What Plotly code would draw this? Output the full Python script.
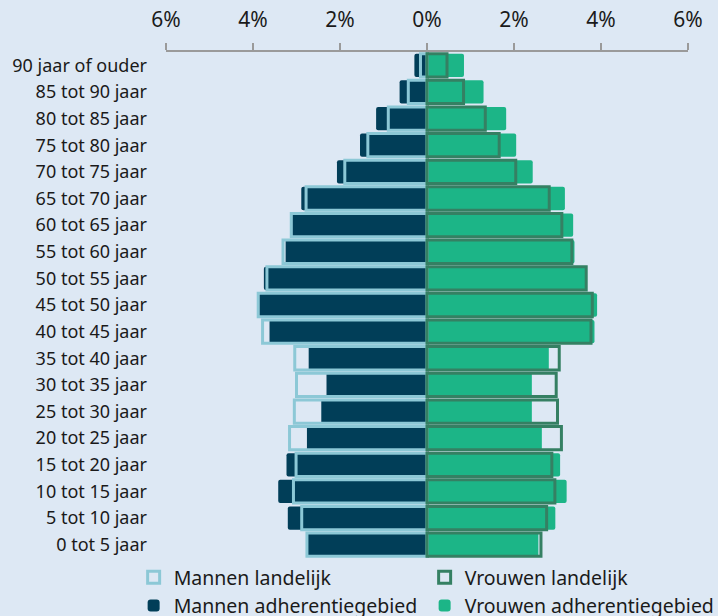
import plotly.graph_objects as go

# age groups, youngest first (plotly draws categories bottom-up)
age_groups = ["0 tot 5 jaar", "5 tot 10 jaar", "10 tot 15 jaar", "15 tot 20 jaar",
              "20 tot 25 jaar", "25 tot 30 jaar", "30 tot 35 jaar", "35 tot 40 jaar",
              "40 tot 45 jaar", "45 tot 50 jaar", "50 tot 55 jaar", "55 tot 60 jaar",
              "60 tot 65 jaar", "65 tot 70 jaar", "70 tot 75 jaar", "75 tot 80 jaar",
              "80 tot 85 jaar", "85 tot 90 jaar", "90 jaar of ouder"]

# percentages of total population
men_adherentie = [2.74, 3.20, 3.42, 3.23, 2.76, 2.43, 2.31, 2.72, 3.62, 3.86,
                  3.75, 3.25, 3.10, 2.89, 2.07, 1.54, 1.17, 0.63, 0.29]
men_landelijk = [2.76, 2.88, 3.07, 3.01, 3.16, 3.05, 3.00, 3.04, 3.78, 3.88,
                 3.68, 3.31, 3.12, 2.78, 1.89, 1.36, 0.89, 0.43, 0.15]
women_adherentie = [2.56, 2.95, 3.21, 3.06, 2.64, 2.41, 2.41, 2.80, 3.85, 3.91,
                    3.67, 3.39, 3.36, 3.17, 2.43, 2.05, 1.82, 1.30, 0.85]
women_landelijk = [2.62, 2.75, 2.94, 2.87, 3.09, 3.00, 2.97, 3.04, 3.77, 3.80,
                   3.66, 3.33, 3.10, 2.81, 2.04, 1.66, 1.34, 0.84, 0.46]

tick_vals = [-6, -4, -2, 0, 2, 4, 6]
tick_text = ["6%", "4%", "2%", "0%", "2%", "4%", "6%"]

bg = "#dde8f4"
men_fill = "#013e58"
men_line = "#8cc8d6"
women_fill = "#1cb587"
women_line = "#358063"

fig = go.Figure()

# filled bars first, outlines on top
fig.add_trace(go.Bar(y=age_groups, x=[-v for v in men_adherentie], orientation="h",
                     name="Mannen adherentiegebied", legendrank=3,
                     marker=dict(color=men_fill, line=dict(width=0), cornerradius=2)))
fig.add_trace(go.Bar(y=age_groups, x=women_adherentie, orientation="h",
                     name="Vrouwen adherentiegebied", legendrank=4,
                     marker=dict(color=women_fill, line=dict(width=0), cornerradius=2)))
fig.add_trace(go.Bar(y=age_groups, x=[-v for v in men_landelijk], orientation="h",
                     name="Mannen landelijk", legendrank=1,
                     marker=dict(color="rgba(0,0,0,0)", line=dict(color=men_line, width=3))))
fig.add_trace(go.Bar(y=age_groups, x=women_landelijk, orientation="h",
                     name="Vrouwen landelijk", legendrank=2,
                     marker=dict(color="rgba(0,0,0,0)", line=dict(color=women_line, width=3))))

fig.update_layout(
    width=718, height=616,
    barmode="overlay", bargap=0.125,
    paper_bgcolor=bg, plot_bgcolor=bg,
    margin=dict(l=166, r=30, t=52, b=58, autoexpand=False),
    font=dict(family="Noto Sans", color="#1a1a1a"),
    legend=dict(orientation="h", x=-0.062, xanchor="left", y=0.0, yanchor="top",
                entrywidth=246, font=dict(size=19.5), bgcolor="rgba(0,0,0,0)",
                traceorder="normal"),
    xaxis=dict(side="top", range=[-6, 6], tickvals=tick_vals, ticktext=tick_text,
               showgrid=False, showline=True, linecolor="#9a9a9a", linewidth=2,
               ticks="outside", ticklen=7, tickwidth=2, tickcolor="#9a9a9a",
               zeroline=True, zerolinecolor="#8c8c8c", zerolinewidth=2.5,
               tickfont=dict(size=21), ticklabelstandoff=8),
    yaxis=dict(showgrid=False, showline=False, zeroline=False, ticks="",
               tickfont=dict(size=18), ticklabelstandoff=18,
               categoryorder="array", categoryarray=age_groups),
)

# drop the default page margin so the figure sits at the window's corner
fig.write_html("out.html", config={"displayModeBar": False},
               post_script="document.body.style.margin='0';document.body.style.overflow='hidden';")
